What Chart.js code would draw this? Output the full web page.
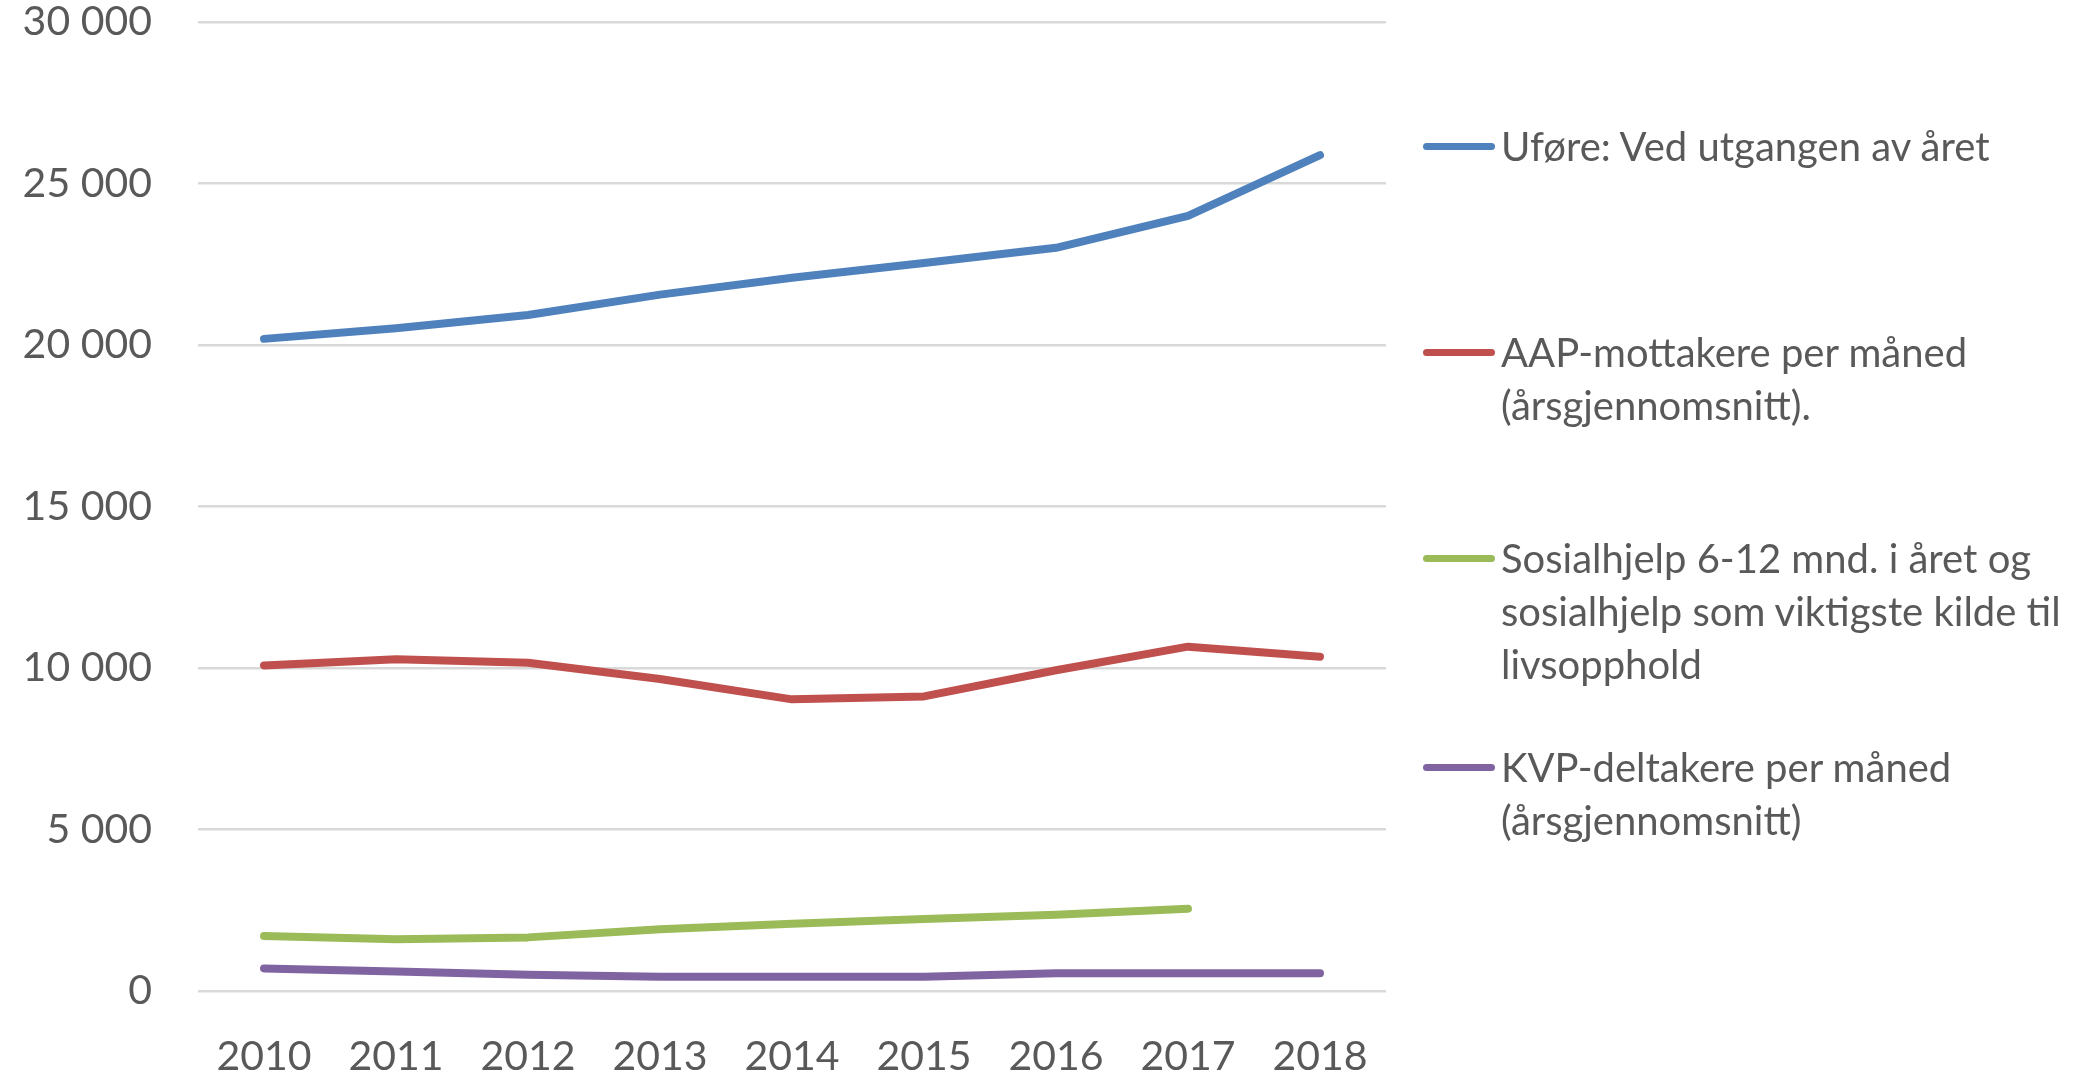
<!DOCTYPE html>
<html>
<head>
<meta charset="utf-8">
<script src="https://cdn.jsdelivr.net/npm/chart.js@4"></script>
<style>
  html, body { margin: 0; padding: 0; background: #fff; }
  #wrap { position: relative; width: 2074px; height: 1081px; }
  #legend { position: absolute; left: 1423px; top: 0; font-family: Lato, sans-serif; font-size: 40px; color: #595959; }
  .item { position: absolute; left: 0; width: 650px; line-height: 53px; white-space: nowrap; }
  .swatch { position: absolute; left: 0; top: 23px; width: 72px; height: 7px; border-radius: 4px; }
  .txt { margin-left: 78px; }
</style>
</head>
<body>
<div id="wrap">
  <canvas id="chart" width="2074" height="1081"></canvas>
  <div id="legend"></div>
</div>
<script>
const years = ["2010", "2011", "2012", "2013", "2014", "2015", "2016", "2017", "2018"];
const labels = [
  ["Uføre: Ved utgangen av året"],
  ["AAP-mottakere per måned", "(årsgjennomsnitt)."],
  ["Sosialhjelp 6-12 mnd. i året og", "sosialhjelp som viktigste kilde til", "livsopphold"],
  ["KVP-deltakere per måned", "(årsgjennomsnitt)"],
];
const colors = ["#4F81BD", "#C0504D", "#9BBB59", "#8064A2"];

const ufore = [20190, 20520, 20930, 21560, 22080, 22540, 23010, 24000, 25880];
const aap = [10080, 10270, 10160, 9660, 9030, 9120, 9930, 10660, 10350];
const sosialhjelp = [1700, 1600, 1660, 1910, 2080, 2230, 2360, 2550, null];
const kvp = [700, 600, 500, 440, 440, 440, 550, 550, 550];

const series = [ufore, aap, sosialhjelp, kvp];
const legendTops = [120, 326, 532, 741];

const chart = new Chart(document.getElementById("chart"), {
  type: "line",
  data: {
    labels: years,
    datasets: series.map((d, i) => ({
      label: labels[i].join(" "),
      data: d,
      borderColor: colors[i],
      backgroundColor: colors[i],
      borderWidth: 8,
      pointRadius: 0,
      tension: 0,
      borderCapStyle: "round",
      borderJoinStyle: "round",
      fill: false,
    })),
  },
  options: {
    responsive: false,
    animation: false,
    layout: { padding: { left: 0, right: 688, top: 22, bottom: 0 } },
    plugins: { legend: { display: false }, tooltip: { enabled: false } },
    scales: {
      x: {
        offset: true,
        grid: { display: false },
        border: { display: false },
        ticks: { color: "#595959", font: { family: "Lato", size: 41 }, padding: 33, maxRotation: 0 },
        afterFit: (s) => { s.height = 90; },
      },
      y: {
        min: 0,
        max: 30000,
        grid: { color: "#D9D9D9", lineWidth: 2.5, drawTicks: false },
        border: { display: false },
        ticks: {
          stepSize: 5000,
          color: "#595959",
          font: { family: "Lato", size: 41, lineHeight: 1 },
          padding: 46,
          callback: (v) => String(v).replace(/\B(?=(\d{3})+(?!\d))/g, " "),
        },
        afterFit: (s) => {
          s.width = 198;
          s.paddingTop = 0;
          s.paddingBottom = 0;
        },
      },
    },
  },
});

const legend = document.getElementById("legend");
chart.data.datasets.forEach((ds, i) => {
  const item = document.createElement("div");
  item.className = "item";
  item.style.top = legendTops[i] + "px";
  const sw = document.createElement("div");
  sw.className = "swatch";
  sw.style.background = ds.borderColor;
  const txt = document.createElement("div");
  txt.className = "txt";
  txt.innerHTML = labels[i].join("<br>");
  item.appendChild(sw);
  item.appendChild(txt);
  legend.appendChild(item);
});
</script>
</body>
</html>
